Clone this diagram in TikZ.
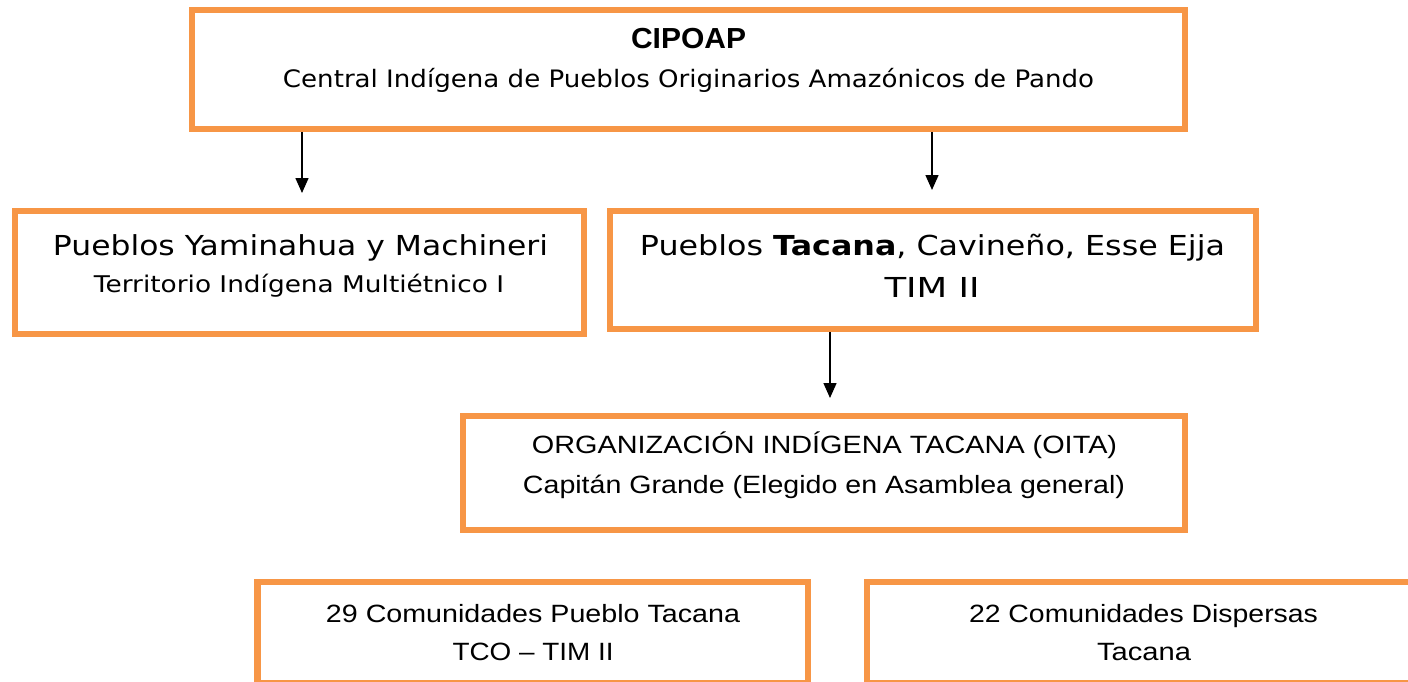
\documentclass[tikz,border=0pt]{standalone}
\usepackage{fontspec}
\usepackage{graphicx}
\usetikzlibrary{arrows.meta}
\setmainfont{Liberation Sans}
\newfontfamily\tah{DejaVu Sans}
\newfontfamily\ari{Liberation Sans}
\definecolor{boxorange}{HTML}{F79646}
\newcommand\fitw[2]{\resizebox{#1pt}{\height}{#2}}
\begin{document}
\begin{tikzpicture}[x=1pt,y=-1pt,
  obox/.style={draw=boxorange, line width=6.5pt, rectangle, inner sep=0pt},
  txt/.style={anchor=base, inner sep=0pt, outer sep=0pt, text=black},
  conn/.style={line width=1.5pt, draw=black, -{Triangle[length=15pt,width=13pt]}}]
\useasboundingbox (0,0) rectangle (1408,682);
\clip (0,0) rectangle (1408,682);
\fill[white] (0,0) rectangle (1408,682);
% boxes
\node[obox, minimum width=993pt, minimum height=119pt] (cipoap) at (688.5,69.5) {};
\node[obox, minimum width=569pt, minimum height=123pt] (yami) at (299.5,272.5) {};
\node[obox, minimum width=646pt, minimum height=118pt] (taca) at (933,270) {};
\node[obox, minimum width=722pt, minimum height=114pt] (oita) at (824,473) {};
\node[obox, minimum width=550.5pt, minimum height=101pt] (com29) at (532.75,632.5) {};
\node[obox, minimum width=633pt, minimum height=101pt] (com22) at (1183.5,632.5) {};
% texts
\node[txt] (t1) at (688.5,49) {\fitw{115}{\ari\bfseries\fontsize{29}{33}\selectfont CIPOAP}};
\node[txt] (t2) at (688.5,88) {\fitw{811}{\tah\fontsize{24}{28}\selectfont Central Indígena de Pueblos Originarios Amazónicos de Pando}};
\node[txt] (t3) at (300.5,255) {\fitw{495}{\tah\fontsize{27.5}{32}\selectfont Pueblos Yaminahua y Machineri}};
\node[txt] (t4) at (299,292) {\fitw{410}{\tah\fontsize{23}{27}\selectfont Territorio Indígena Multiétnico I}};
\node[txt] (t5) at (932.5,255) {\fitw{585}{\tah\fontsize{27.5}{32}\selectfont Pueblos \textbf{Tacana}, Cavineño, Esse Ejja}};
\node[txt] (t6) at (932,297) {\fitw{95}{\tah\fontsize{27.5}{32}\selectfont TIM II}};
\node[txt] (t7) at (824.5,453) {\fitw{585}{\ari\fontsize{25}{29}\selectfont ORGANIZACIÓN INDÍGENA TACANA (OITA)}};
\node[txt] (t8) at (824,493) {\fitw{602}{\ari\fontsize{25}{29}\selectfont Capitán Grande (Elegido en Asamblea general)}};
\node[txt] (t9) at (533,622) {\fitw{414}{\ari\fontsize{25}{29}\selectfont 29 Comunidades Pueblo Tacana}};
\node[txt] (t10) at (533,660) {\fitw{161}{\ari\fontsize{25}{29}\selectfont TCO – TIM II}};
\node[txt] (t11) at (1143.5,622) {\fitw{349}{\ari\fontsize{25}{29}\selectfont 22 Comunidades Dispersas}};
\node[txt] (t12) at (1144,660) {\fitw{94}{\ari\fontsize{25}{29}\selectfont Tacana}};
% connectors
\coordinate (e1) at (302,193);
\coordinate (e2) at (932,190);
\coordinate (e3) at (830,398);
\draw[conn] (cipoap.south -| e1) -- (e1);
\draw[conn] (cipoap.south -| e2) -- (e2);
\draw[conn] (taca.south -| e3) -- (e3);
\end{tikzpicture}
\end{document}
